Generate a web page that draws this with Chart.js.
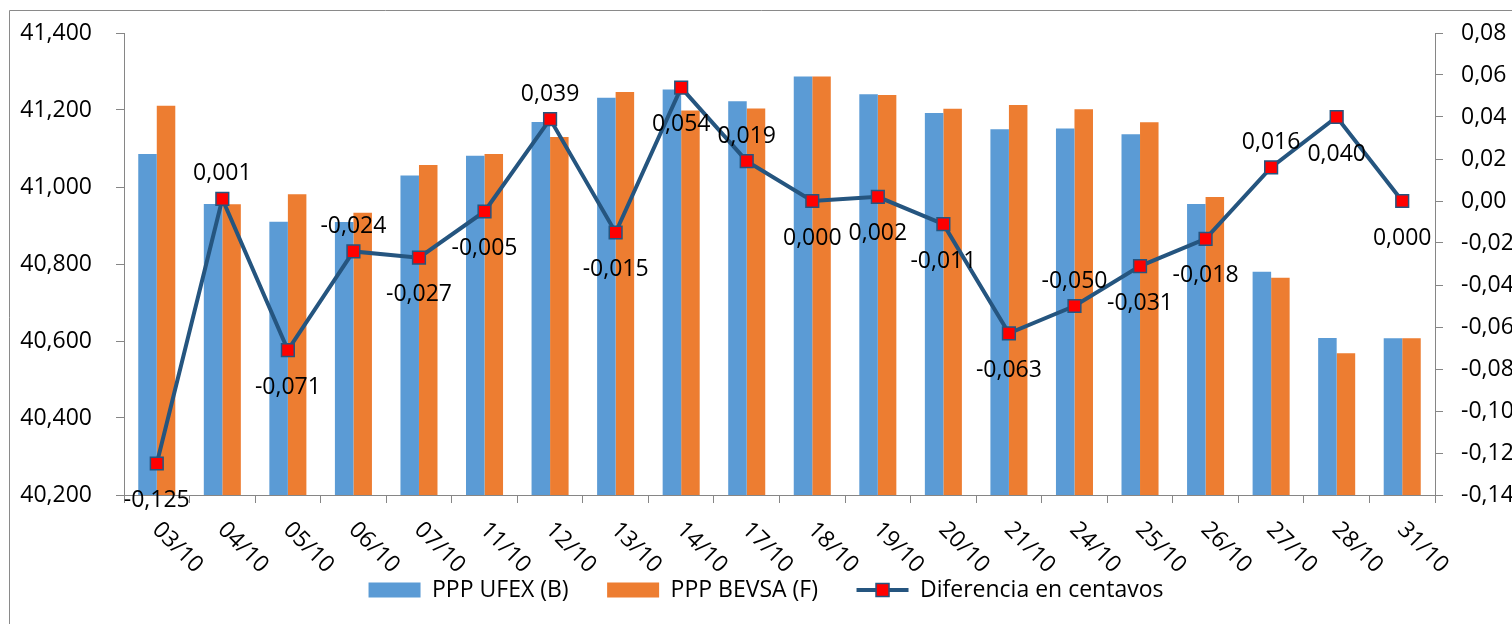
<!DOCTYPE html>
<html>
<head>
<meta charset="utf-8">
<script src="https://cdn.jsdelivr.net/npm/chart.js@4.4.1/dist/chart.umd.min.js"></script>
<style>
  html, body { margin: 0; padding: 0; background: #ffffff; }
  #wrap { width: 1512px; height: 624px; position: relative; }
</style>
</head>
<body>
<div id="wrap"><canvas id="c" width="1512" height="624"></canvas></div>
<script>
const categories = ['03/10','04/10','05/10','06/10','07/10','11/10','12/10','13/10','14/10','17/10','18/10','19/10','20/10','21/10','24/10','25/10','26/10','27/10','28/10','31/10'];
const pppUfex  = [41.086, 40.956, 40.910, 40.909, 41.030, 41.081, 41.169, 41.232, 41.253, 41.223, 41.287, 41.241, 41.192, 41.150, 41.152, 41.137, 40.956, 40.780, 40.608, 40.607];
const pppBevsa = [41.211, 40.955, 40.981, 40.933, 41.057, 41.086, 41.130, 41.247, 41.199, 41.204, 41.287, 41.239, 41.203, 41.213, 41.202, 41.168, 40.974, 40.764, 40.568, 40.607];
const diferencia = [-0.125, 0.001, -0.071, -0.024, -0.027, -0.005, 0.039, -0.015, 0.054, 0.019, 0.000, 0.002, -0.011, -0.063, -0.050, -0.031, -0.018, 0.016, 0.040, 0.000];
const seriesNames = ['PPP UFEX (B)', 'PPP BEVSA (F)', 'Diferencia en centavos'];
const leftTicks = [40.2, 41.4, 0.2];
const rightTicks = [-0.14, 0.08, 0.02];
// indices of labels drawn above their marker (others below)
const labelsAbove = [1, 3, 6, 9, 14, 17];

const FONT = '"Open Sans", sans-serif';
const FS = 23;
const BLUE = '#5B9BD5', ORANGE = '#ED7D31', NAVY = '#25557F', RED = '#FF0000', AXIS = '#868686';

const fmt = (v, d) => {
  let s = Math.abs(v) < 1e-9 ? (0).toFixed(d) : v.toFixed(d);
  return s.replace('.', ',');
};

const decorPlugin = {
  id: 'decor',
  beforeDraw(chart) {
    const ctx = chart.ctx;
    ctx.save();
    ctx.fillStyle = '#ffffff';
    ctx.fillRect(0, 0, chart.width, chart.height);
    ctx.strokeStyle = '#8a8a8a';
    ctx.lineWidth = 1;
    ctx.beginPath();
    ctx.moveTo(9.5, chart.height + 5);
    ctx.lineTo(9.5, 10.5);
    ctx.lineTo(chart.width + 5, 10.5);
    ctx.stroke();
    ctx.restore();
  },
  afterLayout(chart) {
    const lg = chart.legend;
    if (lg) { lg.left += 10; lg.right += 10; }
  },
  afterDraw(chart) {
    const ctx = chart.ctx;
    const x = chart.scales.x;
    const yR = chart.scales.y1;
    ctx.save();
    // x category labels, rotated down-right
    ctx.fillStyle = '#000';
    ctx.font = FS + 'px ' + FONT;
    ctx.textAlign = 'left';
    ctx.textBaseline = 'middle';
    categories.forEach((c, i) => {
      const px = x.getPixelForValue(i);
      ctx.save();
      ctx.translate(px - 1, x.top + 31);
      ctx.rotate(Math.PI / 4);
      ctx.fillText(c, 0, 0);
      ctx.restore();
    });
    // data labels for the line
    ctx.textAlign = 'center';
    diferencia.forEach((v, i) => {
      const px = x.getPixelForValue(i);
      const py = yR.getPixelForValue(v);
      const above = labelsAbove.includes(i);
      ctx.fillText(fmt(v, 3), px, above ? py - 25 : py + 37);
    });
    // legend line symbol
    const lg = chart.legend;
    if (lg && lg.legendHitBoxes && lg.legendHitBoxes[2]) {
      const hb = lg.legendHitBoxes[2];
      const cy = hb.top + hb.height / 2;
      ctx.strokeStyle = NAVY;
      ctx.lineWidth = 4;
      ctx.beginPath();
      ctx.moveTo(hb.left, cy);
      ctx.lineTo(hb.left + 52, cy);
      ctx.stroke();
      ctx.fillStyle = RED;
      ctx.strokeStyle = NAVY;
      ctx.lineWidth = 1.5;
      ctx.fillRect(hb.left + 26 - 6.5, cy - 6.5, 13, 13);
      ctx.strokeRect(hb.left + 26 - 6.5, cy - 6.5, 13, 13);
    }
    ctx.restore();
  }
};

new Chart(document.getElementById('c'), {
  data: {
    labels: categories,
    datasets: [
      { type: 'bar', label: seriesNames[0], data: pppUfex, backgroundColor: BLUE, borderWidth: 0,
        yAxisID: 'y', order: 2, categoryPercentage: 0.565, barPercentage: 1.0 },
      { type: 'bar', label: seriesNames[1], data: pppBevsa, backgroundColor: ORANGE, borderWidth: 0,
        yAxisID: 'y', order: 2, categoryPercentage: 0.565, barPercentage: 1.0 },
      { type: 'line', label: seriesNames[2], data: diferencia, borderColor: NAVY, borderWidth: 4,
        pointStyle: 'rect', pointRadius: 9, pointHoverRadius: 9, pointBackgroundColor: RED,
        pointBorderColor: NAVY, pointBorderWidth: 1.5, tension: 0, yAxisID: 'y1', order: 0 }
    ]
  },
  options: {
    responsive: false,
    animation: false,
    events: [],
    layout: { padding: { top: 33, bottom: 12.5, left: 0, right: 0 } },
    plugins: {
      tooltip: { enabled: false },
      title: { display: false },
      legend: {
        display: true,
        position: 'bottom',
        labels: {
          font: { family: FONT, size: FS },
          color: '#000',
          boxWidth: 52,
          boxHeight: 15,
          padding: 38.5,
          generateLabels(chart) {
            return chart.data.datasets.map((ds, i) => ({
              text: ds.label,
              fillStyle: i === 2 ? 'rgba(0,0,0,0)' : ds.backgroundColor,
              strokeStyle: 'rgba(0,0,0,0)',
              lineWidth: 0,
              hidden: false,
              datasetIndex: i,
              fontColor: '#000'
            }));
          }
        }
      }
    },
    scales: {
      x: {
        type: 'category',
        offset: true,
        grid: { display: true, drawOnChartArea: false, drawTicks: true, tickLength: 8, color: AXIS, offset: true },
        border: { display: true, color: AXIS, width: 1 },
        ticks: { display: false },
        afterFit(s) { s.height = 45; }
      },
      y: {
        position: 'left',
        min: leftTicks[0], max: leftTicks[1],
        grid: { display: true, drawOnChartArea: false, drawTicks: true, tickLength: 8, color: AXIS },
        border: { display: true, color: AXIS, width: 1 },
        ticks: {
          stepSize: leftTicks[2], padding: 24, color: '#000',
          font: { family: FONT, size: FS },
          callback: (v) => fmt(v, 3)
        },
        afterFit(s) { s.width = 124; s.paddingTop = 14; s.paddingBottom = 14; }
      },
      y1: {
        position: 'right',
        min: rightTicks[0], max: rightTicks[1],
        grid: { display: true, drawOnChartArea: false, drawTicks: true, tickLength: 8, color: AXIS },
        border: { display: true, color: AXIS, width: 1 },
        ticks: {
          stepSize: rightTicks[2], padding: 18, color: '#000',
          font: { family: FONT, size: FS },
          callback: (v) => fmt(v, 2)
        },
        afterFit(s) { s.width = 77; s.paddingTop = 14; s.paddingBottom = 14; }
      }
    }
  },
  plugins: [decorPlugin]
});
</script>
</body>
</html>
